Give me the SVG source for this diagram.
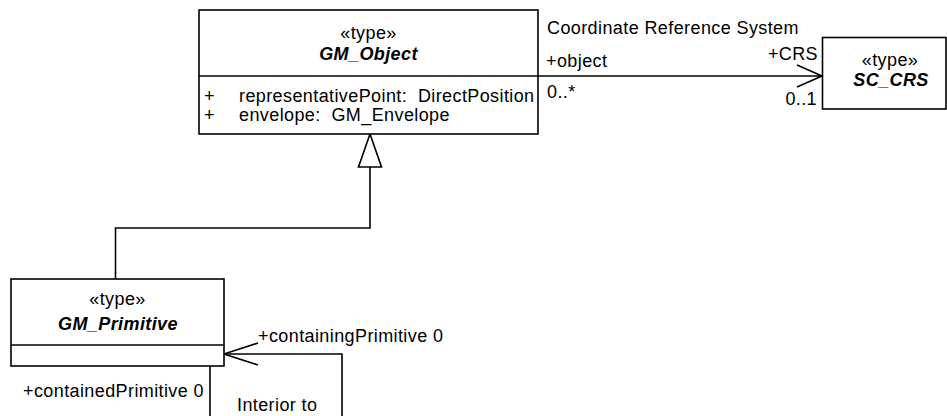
<svg xmlns="http://www.w3.org/2000/svg" width="947" height="416" viewBox="0 0 947 416">
  <style>
    text { font-family: "Liberation Sans", Arial, sans-serif; font-size: 18px; fill: #000; letter-spacing: 0.4px; white-space: pre; }
    .c { text-anchor: middle; }
    .name { font-weight: bold; font-style: italic; }
    .box { fill: #fff; stroke: #000; stroke-width: 1.6; }
    .ln { fill: none; stroke: #000; stroke-width: 1.6; }
  </style>
  <rect width="947" height="416" fill="#fff"/>

  <g id="connectors">
    <!-- GM_Primitive generalizes to GM_Object -->
    <path class="ln" d="M115.5,279 V228 H370 V167"/>
    <polygon points="370,134 358.5,167 381.5,167" fill="#fff" stroke="#000" stroke-width="1.6"/>
    <!-- GM_Object to SC_CRS association -->
    <path class="ln" d="M538,76 H822"/>
    <path class="ln" d="M797,65 L822,76 L797,87"/>
    <!-- Interior to (self association) -->
    <path class="ln" d="M210,366 V416"/>
    <path class="ln" d="M342,416 V354 H224"/>
    <path class="ln" d="M258,343 L224,354 L258,365"/>
  </g>

  <g id="labels">
    <text x="547" y="34">Coordinate Reference System</text>
    <text x="546" y="66.5">+object</text>
    <text x="547" y="98">0..*</text>
    <text x="818" y="60" text-anchor="end">+CRS</text>
    <text x="817" y="105" text-anchor="end">0..1</text>
    <text x="258" y="341.5">+containingPrimitive 0</text>
    <text x="204" y="396.5" text-anchor="end">+containedPrimitive 0</text>
    <text x="237" y="411">Interior to</text>
  </g>

  <g id="GM_Object">
    <rect class="box" x="199" y="10" width="339" height="124"/>
    <path class="ln" d="M199,76 H538"/>
    <text class="c" x="368.5" y="38.5">«type»</text>
    <text class="c name" x="368.5" y="60">GM_Object</text>
    <text x="204" y="101.5">+</text>
    <text x="239" y="101.5">representativePoint:  DirectPosition</text>
    <text x="204" y="120.5">+</text>
    <text x="239" y="120.5">envelope:  GM_Envelope</text>
  </g>

  <g id="SC_CRS">
    <rect class="box" x="822.5" y="37.5" width="123.5" height="71.5"/>
    <text class="c" x="890" y="66">«type»</text>
    <text class="c name" x="891" y="85.5">SC_CRS</text>
  </g>

  <g id="GM_Primitive">
    <rect class="box" x="11" y="279" width="213" height="87"/>
    <path class="ln" d="M11,345 H224"/>
    <text class="c" x="117.5" y="305">«type»</text>
    <text class="c name" x="118" y="330">GM_Primitive</text>
  </g>
</svg>
